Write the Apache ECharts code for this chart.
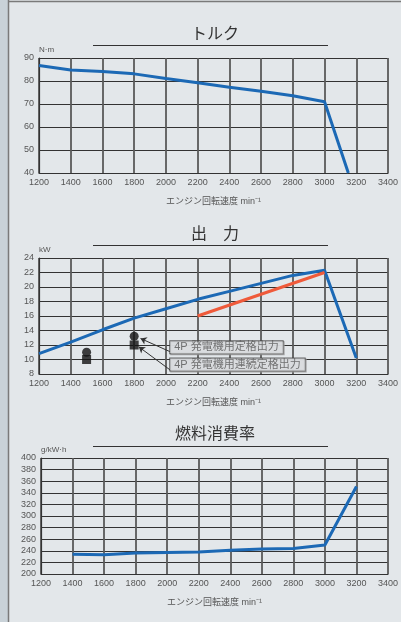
<!DOCTYPE html>
<html>
<head>
<meta charset="utf-8">
<script src="https://cdn.jsdelivr.net/npm/echarts@6/dist/echarts.min.js"></script>
<style>
html, body { margin: 0; padding: 0; background: #e3e7ea; }
#container { width: 401px; height: 622px; }
</style>
</head>
<body>
<div id="container"></div>
<script>
// engine speed axis (shared)
var rpmMin = 1200, rpmMax = 3400, rpmStep = 200;

// トルク
var torqueRpm = [1200, 1400, 1600, 1800, 2000, 2200, 2400, 2600, 2800, 3000, 3150];
var torqueNm = [86.7, 84.8, 84.1, 83.1, 81.1, 79.2, 77.3, 75.5, 73.6, 71.0, 40];

// 出力
var powerRpm = [1200, 1400, 1600, 1800, 2000, 2200, 2400, 2600, 2800, 3000, 3200];
var powerKw = [10.8, 12.4, 14.1, 15.7, 17.0, 18.3, 19.4, 20.5, 21.6, 22.3, 10.2];
var ratedRpm = [2200, 3000];
var ratedKw = [16.0, 22.0];
var genRatedRpm = [1500, 1800];
var genRatedKw = [11.0, 13.2];
var genContRpm = [1500, 1800];
var genContKw = [10.0, 12.0];

// annotation boxes (anchor = left middle of box) and arrows
var annoText = ['4P 発電機用定格出力', '4P 発電機用連続定格出力'];
var annoAnchor = [[2027, 11.7], [2027, 9.3]];
var annoArrowFrom = [[2027, 11.07], [2027, 8.55]];
var annoArrowTo = [[1840, 12.9], [1829, 11.75]];

// 燃料消費率
var fuelRpm = [1400, 1600, 1800, 2000, 2200, 2400, 2600, 2800, 3000, 3200];
var fuelG = [234, 233, 236, 237, 238, 241, 243, 244, 250, 351];

var titles = ['トルク', '出　力', '燃料消費率'];
var units = ['N·m', 'kW', 'g/kW·h'];

var FONT = '"Liberation Sans", "Noto Sans CJK JP", sans-serif';
var BLUE = '#1c69b5';
var ORANGE = '#ef5a3a';

function pairs(xs, ys) {
    var obj = [];
    for (var i = 0; i < xs.length; i++) {
        obj.push([xs[i], ys[i]]);
    }
    return obj;
}

var dom = document.getElementById('container');
var myChart = echarts.init(dom, null, { renderer: 'canvas' });

var grids = [
    { left: 39, right: 9, top: 58, height: 115 },
    { left: 39, right: 10, top: 258, height: 116 },
    { left: 41, right: 12, top: 458, height: 116 }
];

function xAxis(i) {
    return {
        type: 'value', gridIndex: i,
        min: rpmMin, max: rpmMax, interval: rpmStep,
        name: 'エンジン回転速度 min⁻¹',
        nameLocation: 'middle', nameGap: 24,
        nameTextStyle: { color: '#555', fontSize: 9, fontFamily: FONT },
        axisLine: { lineStyle: { color: '#333', width: 1.2 } },
        axisTick: { show: false },
        axisLabel: {
            color: '#555', fontSize: 9, fontFamily: FONT, margin: 5,
            showMinLabel: true, showMaxLabel: true,
            formatter: function (v) { return String(v); }
        },
        splitLine: { show: true, lineStyle: { color: '#5a5a5a', width: 1.8 } }
    };
}

function yAxis(i, min, max, step) {
    return {
        type: 'value', gridIndex: i,
        min: min, max: max, interval: step,
        name: units[i], nameLocation: 'end', nameGap: 4,
        nameTextStyle: { color: '#555', fontSize: 8, fontFamily: FONT, align: 'left' },
        axisLine: { show: true, lineStyle: { color: '#333', width: 1.2 } },
        axisTick: { show: false },
        axisLabel: { color: '#555', fontSize: 9, fontFamily: FONT, margin: 5 },
        splitLine: { show: true, lineStyle: { color: '#333', width: 1.2 } }
    };
}

var titleTops = [22, 222, 422];
var underlineY = [45.5, 245.5, 446.5];

var graphics = [
    { type: 'rect', shape: { x: 0, y: 0, width: 8, height: 622 }, style: { fill: '#c9d2d8' } },
    { type: 'line', shape: { x1: 8.5, y1: 0, x2: 8.5, y2: 622 }, style: { stroke: '#7a7a7a', lineWidth: 1.5 } },
    { type: 'line', shape: { x1: 8, y1: 1.5, x2: 401, y2: 1.5 }, style: { stroke: '#7a7a7a', lineWidth: 1.5 } }
];
underlineY.forEach(function (y) {
    graphics.push({ type: 'line', shape: { x1: 93, y1: y, x2: 328, y2: y }, style: { stroke: '#333', lineWidth: 1 } });
});

var option = {
    backgroundColor: '#e3e7ea',
    animation: false,
    title: titles.map(function (t, i) {
        return {
            text: t, left: 210, top: titleTops[i], textAlign: 'center',
            textStyle: { color: '#333', fontSize: 16, fontWeight: 'normal', fontFamily: FONT }
        };
    }),
    grid: grids,
    xAxis: [xAxis(0), xAxis(1), xAxis(2)],
    yAxis: [yAxis(0, 40, 90, 10), yAxis(1, 8, 24, 2), yAxis(2, 200, 400, 20)],
    graphic: graphics,
    series: [
        {
            name: 'トルク', type: 'line', xAxisIndex: 0, yAxisIndex: 0,
            data: pairs(torqueRpm, torqueNm), showSymbol: false,
            lineStyle: { color: BLUE, width: 3 }
        },
        {
            name: '出力', type: 'line', xAxisIndex: 1, yAxisIndex: 1,
            data: pairs(powerRpm, powerKw), showSymbol: false,
            lineStyle: { color: BLUE, width: 3 }
        },
        {
            name: '定格出力', type: 'line', xAxisIndex: 1, yAxisIndex: 1,
            data: pairs(ratedRpm, ratedKw), showSymbol: false,
            lineStyle: { color: ORANGE, width: 3 }
        },
        {
            name: '4P 発電機用定格出力', type: 'scatter', xAxisIndex: 1, yAxisIndex: 1,
            data: pairs(genRatedRpm, genRatedKw), symbol: 'circle', symbolSize: 9,
            itemStyle: { color: '#111' }
        },
        {
            name: '4P 発電機用連続定格出力', type: 'scatter', xAxisIndex: 1, yAxisIndex: 1,
            data: pairs(genContRpm, genContKw), symbol: 'rect', symbolSize: 9,
            itemStyle: { color: '#111' },
            markLine: {
                silent: true,
                symbol: ['none', 'arrow'], symbolSize: 6,
                label: { show: false },
                lineStyle: { color: '#333', width: 1, type: 'solid' },
                data: annoArrowFrom.map(function (p, i) {
                    return [{ coord: p }, { coord: annoArrowTo[i] }];
                })
            }
        },
        {
            name: 'annotation', type: 'scatter', xAxisIndex: 1, yAxisIndex: 1,
            symbolSize: 0, silent: true, z: 5,
            data: annoAnchor.map(function (p, i) {
                return { value: p, name: annoText[i] };
            }),
            label: {
                show: true, position: 'right', distance: 0,
                formatter: '{b}',
                color: '#555', fontSize: 11, fontFamily: FONT,
                backgroundColor: '#e6e9ec', borderColor: '#444', borderWidth: 1,
                padding: [1, 4, 0, 4],
                shadowColor: '#999', shadowOffsetX: 1, shadowOffsetY: 1, shadowBlur: 0
            }
        },
        {
            name: '燃料消費率', type: 'line', xAxisIndex: 2, yAxisIndex: 2,
            data: pairs(fuelRpm, fuelG), showSymbol: false,
            lineStyle: { color: BLUE, width: 3 }
        }
    ]
};

myChart.setOption(option);
window.addEventListener('resize', myChart.resize);
</script>
</body>
</html>
